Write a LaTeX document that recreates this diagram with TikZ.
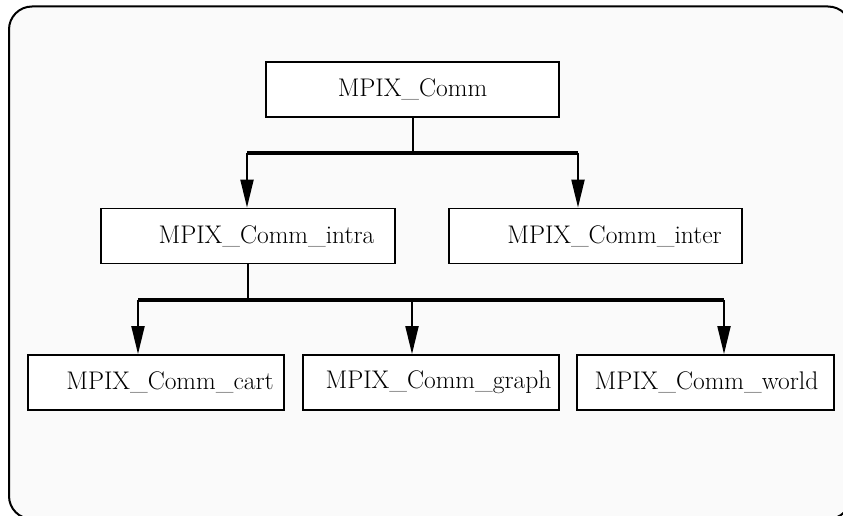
\documentclass[tikz,border=0pt]{standalone}
\usetikzlibrary{arrows.meta}
\definecolor{panelgray}{HTML}{FAFAFA}

\begin{document}
\begin{tikzpicture}[x=1pt,y=-1pt,
    classbox/.style={draw, line width=1.8pt, fill=white, minimum height=55pt, inner sep=0pt,
        font=\fontsize{25.5}{30}\selectfont},
    stem/.style={line width=2pt},
    bus/.style={line width=3.5pt},
    arrow/.style={line width=2pt, -{Triangle[length=28pt,width=13pt]}}]
    % Fix the size of the picture
    \useasboundingbox (0,0) rectangle (843,516);
    % Draw the rounded panel
    \draw[line width=2pt, fill=panelgray, rounded corners=23pt] (9,6.5) rectangle (851,519);
    % Define the class boxes
    \node[classbox, minimum width=293pt] (comm) at (412.5,89.5) {MPIX\_Comm};
    \node[classbox, minimum width=294pt] (intra) at (248,236) {\hspace*{37pt}MPIX\_Comm\_intra};
    \node[classbox, minimum width=293pt] (inter) at (595.5,236) {\hspace*{38pt}MPIX\_Comm\_inter};
    \node[classbox, minimum width=256pt] (cart) at (156,382.5) {\hspace*{28pt}MPIX\_Comm\_cart};
    \node[classbox, minimum width=256pt] (graph) at (431,382.5) {\hspace*{15pt}MPIX\_Comm\_graph};
    \node[classbox, minimum width=257pt] (world) at (705.5,382.5) {\hspace*{2pt}MPIX\_Comm\_world};
    % Define the bus coordinates
    \coordinate (topbus) at (412.5,153);
    \coordinate (topbusleft) at (247,153);
    \coordinate (topbusright) at (578,153);
    \coordinate (lowbus) at (248,300);
    \coordinate (lowbusleft) at (138,300);
    \coordinate (lowbusmid) at (412,300);
    \coordinate (lowbusright) at (724,300);
    % Draw the first level
    \draw[stem] (comm.south) -- (topbus);
    \draw[bus] (topbusleft) -- (topbusright);
    \draw[arrow] (topbusleft) -- (topbusleft |- intra.north);
    \draw[arrow] (topbusright) -- (topbusright |- inter.north);
    % Draw the second level
    \draw[stem] (intra.south) -- (lowbus);
    \draw[bus] (lowbusleft) -- (lowbusright);
    \draw[arrow] (lowbusleft) -- (lowbusleft |- cart.north);
    \draw[arrow] (lowbusmid) -- (lowbusmid |- graph.north);
    \draw[arrow] (lowbusright) -- (lowbusright |- world.north);
\end{tikzpicture}
\end{document}
